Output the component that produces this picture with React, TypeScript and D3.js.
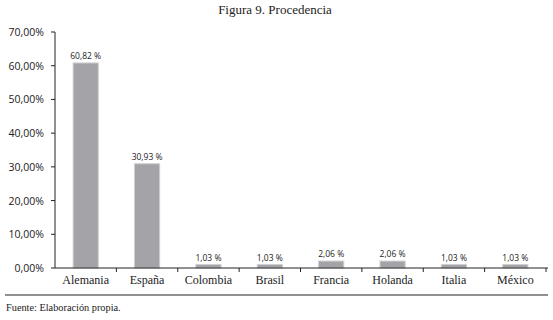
import React from "react";
import * as d3 from "d3";

const categories = ["Alemania", "España", "Colombia", "Brasil", "Francia", "Holanda", "Italia", "México"];
const values = [60.82, 30.93, 1.03, 1.03, 2.06, 2.06, 1.03, 1.03];
const yTicks = [0, 10, 20, 30, 40, 50, 60, 70];
const title = "Figura 9. Procedencia";
const source = "Fuente: Elaboración propia.";

const fmtTick = (v: number) => v.toFixed(2).replace(".", ",") + "%";
const fmtLabel = (v: number) => v.toFixed(2).replace(".", ",") + " %";

export default function App() {
  const W = 553, H = 320;
  const left = 55, right = 546, top = 32, bottom = 268;
  const x = d3.scaleBand<string>().domain(categories).range([left, right]).paddingInner(0.59).paddingOuter(0.295);
  const xb = d3.scaleBand<string>().domain(categories).range([left, right]);
  const y = d3.scaleLinear().domain([0, 70]).range([bottom, top]);
  const sans = "'Open Sans', 'DejaVu Sans', sans-serif";
  const serif = "'Liberation Serif', 'Times New Roman', serif";
  return (
    <svg width={W} height={H} style={{ position: "absolute", left: 0, top: 0, background: "#fff" }}>
      <text x={275} y={14} textAnchor="middle" fontFamily={serif} fontSize={13} fill="#222">{title}</text>
      {values.map((v, i) => {
        const c = categories[i];
        const bx = x(c)!;
        return (
          <g key={c}>
            <rect x={bx} y={y(v)} width={x.bandwidth()} height={bottom - y(v)} fill="#a4a4a8" stroke="#cfcfd2" strokeWidth={1} />
            <text x={bx + x.bandwidth() / 2} y={y(v) - 4} textAnchor="middle" fontFamily={sans} fontSize={8.5} fill="#222">{fmtLabel(v)}</text>
          </g>
        );
      })}
      <line x1={left} x2={left} y1={top} y2={bottom} stroke="#222" />
      {yTicks.map(t => (
        <g key={t}>
          <line x1={left - 4} x2={left} y1={y(t)} y2={y(t)} stroke="#222" />
          <text x={44} y={y(t) + 4} textAnchor="end" fontFamily={sans} fontSize={10.5} fill="#222">{fmtTick(t)}</text>
        </g>
      ))}
      <line x1={left} x2={right + 2} y1={bottom} y2={bottom} stroke="#222" />
      {categories.map(c => (
        <line key={"t" + c} x1={xb(c)! + xb.bandwidth()} x2={xb(c)! + xb.bandwidth()} y1={bottom} y2={bottom + 4} stroke="#222" />
      ))}
      {categories.map(c => (
        <text key={"l" + c} x={xb(c)! + xb.bandwidth() / 2} y={284} textAnchor="middle" fontFamily={serif} fontSize={12} fill="#222">{c}</text>
      ))}
      <line x1={5} x2={548} y1={295} y2={295} stroke="#222" strokeWidth={1.2} />
      <text x={6} y={311} fontFamily={serif} fontSize={10.3} fill="#222">{source}</text>
    </svg>
  );
}
